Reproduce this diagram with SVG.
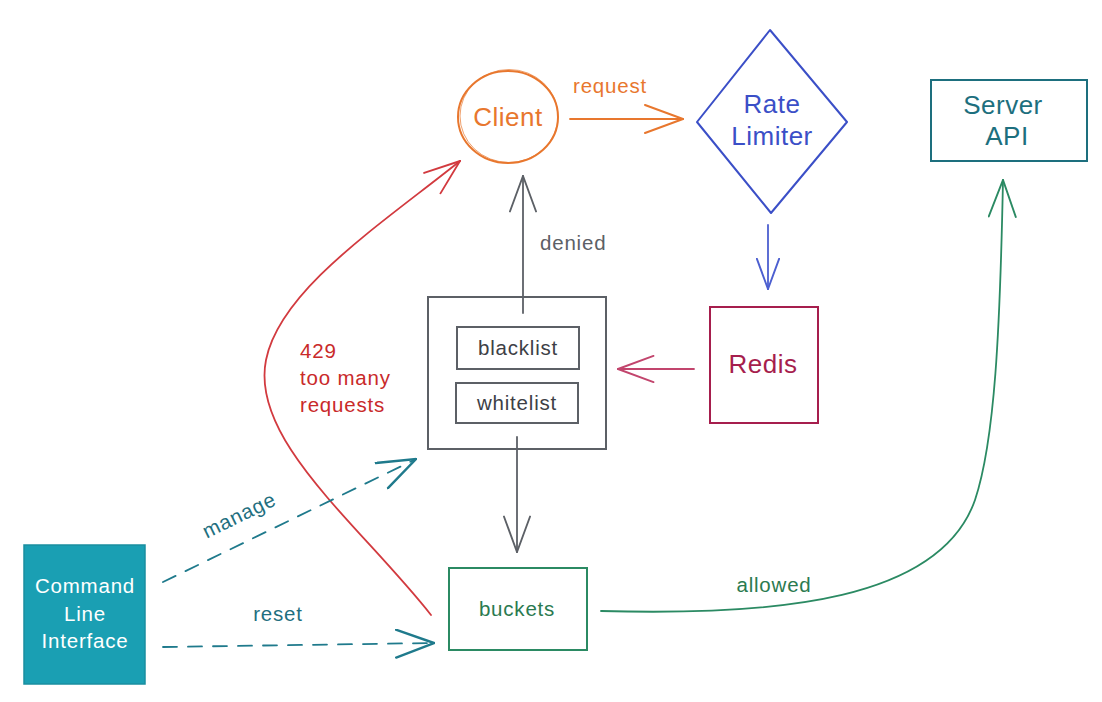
<svg xmlns="http://www.w3.org/2000/svg" width="1102" height="702" viewBox="0 0 1102 702">
<style>
text{font-family:"Liberation Sans","DejaVu Sans",sans-serif;}
.t{font-size:26px;text-anchor:middle;letter-spacing:0.5px;}
.s{font-size:20.5px;letter-spacing:0.8px;}
.c{stroke-width:1.8;fill:none;stroke-linecap:round;}
.dash{stroke-dasharray:14 11;}
</style>
<defs>
<marker id="mO" viewBox="0 0 40 30" refX="39" refY="15" markerWidth="40" markerHeight="30" markerUnits="userSpaceOnUse" orient="auto"><path d="M1,1 L39,15 L1,29" fill="none" stroke="#e8772e" stroke-width="2" stroke-linecap="round"/></marker>
<marker id="mB" viewBox="0 0 40 30" refX="39" refY="15" markerWidth="32" markerHeight="24" markerUnits="userSpaceOnUse" orient="auto"><path d="M1,1 L39,15 L1,29" fill="none" stroke="#4c5fd0" stroke-width="2.4" stroke-linecap="round"/></marker>
<marker id="mP" viewBox="0 0 40 30" refX="39" refY="15" markerWidth="38" markerHeight="28" markerUnits="userSpaceOnUse" orient="auto"><path d="M1,1 L39,15 L1,29" fill="none" stroke="#c2456d" stroke-width="2" stroke-linecap="round"/></marker>
<marker id="mG" viewBox="0 0 40 30" refX="39" refY="15" markerWidth="38" markerHeight="28" markerUnits="userSpaceOnUse" orient="auto"><path d="M1,1 L39,15 L1,29" fill="none" stroke="#5c6066" stroke-width="2" stroke-linecap="round"/></marker>
<marker id="mR" viewBox="0 0 40 30" refX="39" refY="15" markerWidth="38" markerHeight="28" markerUnits="userSpaceOnUse" orient="auto"><path d="M1,1 L39,15 L1,29" fill="none" stroke="#d23a3f" stroke-width="2" stroke-linecap="round"/></marker>
<marker id="mN" viewBox="0 0 40 30" refX="39" refY="15" markerWidth="39" markerHeight="29" markerUnits="userSpaceOnUse" orient="auto"><path d="M1,1 L39,15 L1,29" fill="none" stroke="#2b8a63" stroke-width="2" stroke-linecap="round"/></marker>
<marker id="mT" viewBox="0 0 40 30" refX="39" refY="15" markerWidth="40" markerHeight="30" markerUnits="userSpaceOnUse" orient="auto"><path d="M1,1 L39,15 L1,29" fill="none" stroke="#1f7a8c" stroke-width="2.4" stroke-linecap="round"/></marker>
</defs>
<rect width="1102" height="702" fill="#ffffff"/>

<g id="connectors">
<path class="c" d="M570,119 L683,119" stroke="#e8772e" marker-end="url(#mO)"/>
<text class="s" x="573" y="93" fill="#e8772e">request</text>
<path class="c" d="M768,225 L768,289" stroke="#4c5fd0" marker-end="url(#mB)"/>
<path class="c" d="M694,369 L618,369" stroke="#c2456d" marker-end="url(#mP)"/>
<path class="c" d="M523,313 L523,176" stroke="#5c6066" stroke-width="2" marker-end="url(#mG)"/>
<text class="s" x="540" y="250" fill="#5c6066">denied</text>
<path class="c" d="M517,437 L517,552" stroke="#5c6066" stroke-width="2" marker-end="url(#mG)"/>
<path class="c" d="M431,615 C360,525 250,440 266,360 C280,290 380,225 460,161" stroke="#d23a3f" stroke-width="1.5" marker-end="url(#mR)"/>
<text class="s" fill="#c92a2a"><tspan x="300" y="358">429</tspan><tspan x="300" y="385">too many</tspan><tspan x="300" y="412">requests</tspan></text>
<path class="c" d="M601,611 C780,616 940,600 975,500 C995,440 1000,330 1003,180" stroke="#2b8a63" marker-end="url(#mN)"/>
<text class="s" x="774" y="592" fill="#2b7a50" text-anchor="middle">allowed</text>
<path class="c dash" d="M163,582 L416,459" stroke="#1f7a8c" stroke-width="2" marker-end="url(#mT)"/>
<text class="s" x="240" y="522" fill="#1f6f80" text-anchor="middle" font-size="19" transform="rotate(-26 240 517)">manage</text>
<path class="c dash" d="M163,647 L434,643" stroke="#1f7a8c" stroke-width="2" marker-end="url(#mT)"/>
<text class="s" x="278" y="621" fill="#1f6f80" text-anchor="middle">reset</text>
</g>

<g id="client">
<ellipse cx="508" cy="117" rx="50" ry="46" fill="none" stroke="#e8772e" stroke-width="2"/>
<ellipse cx="509" cy="116" rx="49" ry="46.5" fill="none" stroke="#e8772e" stroke-width="1" opacity="0.7"/>
<text class="t" x="508" y="126" fill="#e8772e">Client</text>
</g>

<g id="rate-limiter">
<path d="M770,30 L847,122 L771,213 L697,122 Z" fill="none" stroke="#3b4fc7" stroke-width="2" stroke-linejoin="round"/>
<text class="t" x="772" y="113" fill="#3b4fc7">Rate</text>
<text class="t" x="772" y="145" fill="#3b4fc7">Limiter</text>
</g>

<g id="server-api">
<rect x="931" y="80" width="156" height="81" fill="none" stroke="#1d6f7e" stroke-width="2"/>
<text class="t" x="1003" y="114" fill="#1d6f7e">Server</text>
<text class="t" x="1007" y="145" fill="#1d6f7e">API</text>
</g>

<g id="redis">
<rect x="710" y="307" width="108" height="116" fill="none" stroke="#a61e4d" stroke-width="2"/>
<text class="t" x="763" y="373" fill="#a61e4d">Redis</text>
</g>

<g id="lists">
<rect x="428" y="297" width="178" height="152" fill="none" stroke="#5c6066" stroke-width="2"/>
<g id="blacklist">
<rect x="457" y="327" width="122" height="42" fill="none" stroke="#5c6066" stroke-width="2"/>
<text class="s" x="518" y="355" fill="#3d4046" text-anchor="middle">blacklist</text>
</g>
<g id="whitelist">
<rect x="456" y="383" width="122" height="40" fill="none" stroke="#5c6066" stroke-width="2"/>
<text class="s" x="517" y="410" fill="#3d4046" text-anchor="middle">whitelist</text>
</g>
</g>

<g id="buckets">
<rect x="449" y="568" width="138" height="82" fill="none" stroke="#2b8a63" stroke-width="2"/>
<text class="s" x="517" y="616" fill="#2b7a50" text-anchor="middle">buckets</text>
</g>

<g id="cli">
<rect x="24" y="545" width="121" height="139" fill="#1a9fb3" stroke="#1a8ea0" stroke-width="1.5"/>
<text class="s" x="85" y="593" fill="#ffffff" text-anchor="middle" font-size="19">Command</text>
<text class="s" x="85" y="621" fill="#ffffff" text-anchor="middle" font-size="19">Line</text>
<text class="s" x="85" y="648" fill="#ffffff" text-anchor="middle" font-size="19">Interface</text>
</g>
</svg>
